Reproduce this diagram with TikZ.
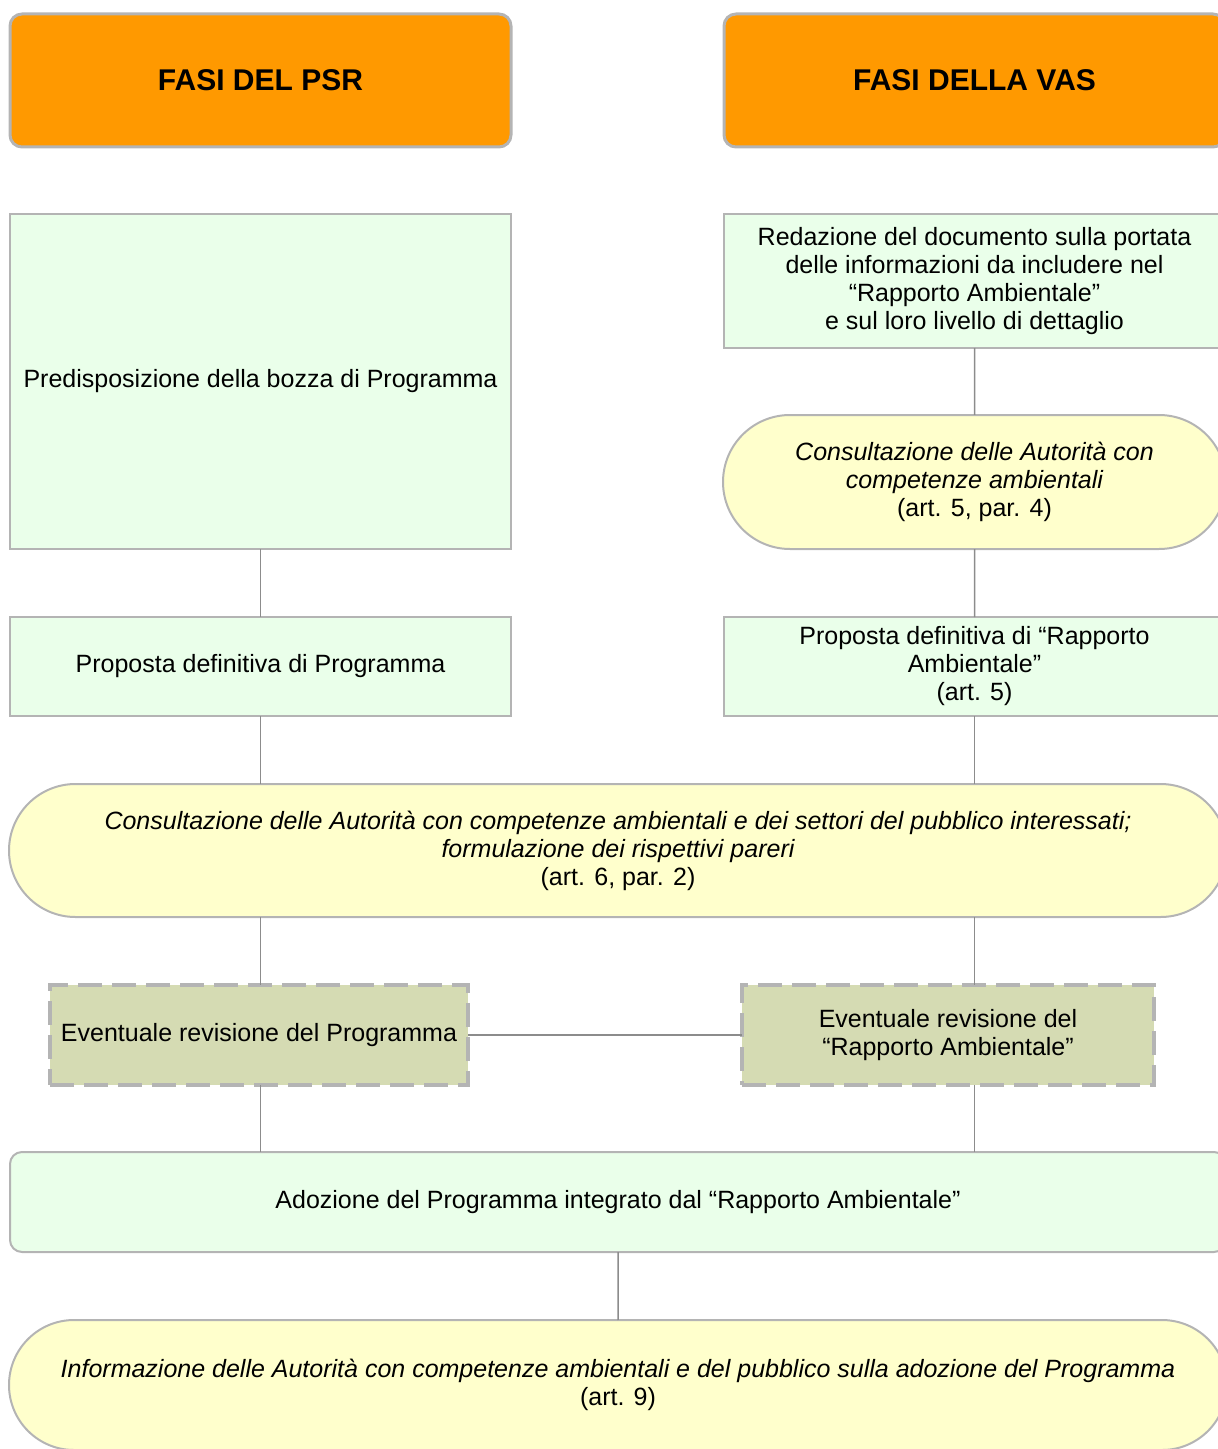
\documentclass[tikz,border=0pt]{standalone}
\usepackage{fontspec}
\setmainfont{Liberation Sans}
\usepackage{tikz}
\usetikzlibrary{positioning, shapes.misc}

\definecolor{headorange}{HTML}{FF9900}
\definecolor{boxgreen}{HTML}{EAFFEA}
\definecolor{boxyellow}{HTML}{FFFFCC}
\definecolor{boxolive}{HTML}{D5DBB3}
\definecolor{edgegray}{HTML}{B4B4B4}
\definecolor{linkgray}{HTML}{8C8C8C}

\begin{document}
\begin{tikzpicture}[
  font=\fontsize{12.5pt}{14pt}\selectfont,
  node distance=33.5pt and 106.5pt,
  every node/.style={outer sep=0pt},
  head/.style   ={rectangle, rounded corners=6pt, draw=edgegray, line width=1.5pt,
                  fill=headorange, minimum width=250.5pt, minimum height=66.5pt,
                  font=\fontsize{15pt}{17pt}\selectfont\bfseries},
  phase/.style  ={rectangle, draw=edgegray, line width=1pt, fill=boxgreen,
                  minimum width=250.5pt, align=center, inner sep=2pt},
  consult/.style={rounded rectangle, draw=edgegray, line width=1pt, fill=boxyellow,
                  minimum width=255.5pt, align=center, inner sep=2pt},
  revise/.style ={rectangle, draw=edgegray, line width=2pt,
                  dash pattern=on 12pt off 5pt, fill=boxolive,
                  minimum height=50pt, align=center, inner sep=2pt},
  link/.style   ={draw=linkgray, line width=0.75pt}
]
\useasboundingbox (0,0) rectangle (609pt,-724.5pt);

% ---------- Headers ----------
\node[head, anchor=north west] (hpsr) at (5pt,-7pt) {FASI DEL PSR};
\node[head, right=of hpsr]     (hvas) {FASI DELLA VAS};

% ---------- PSR column ----------
\node[phase, minimum height=167.5pt, below=of hpsr] (psrA)
  {Predisposizione della bozza di Programma};
\node[phase, minimum height=49.5pt, below=34pt of psrA] (psrB)
  {Proposta definitiva di Programma};

% ---------- VAS column ----------
\node[phase, minimum height=67pt, below=of hvas] (vasA)
  {Redazione del documento sulla portata\\delle informazioni da includere nel\\“Rapporto Ambientale”\\e sul loro livello di dettaglio};
\node[consult, minimum height=67pt, below=of vasA] (vasB)
  {\itshape Consultazione delle Autorità con\\\itshape competenze ambientali\\(art. 5, par. 4)};
\node[phase, minimum height=49.5pt, below=34pt of vasB] (vasC)
  {Proposta definitiva di “Rapporto\\Ambientale”\\(art. 5)};

% ---------- Shared phases ----------
\node[consult, minimum width=613pt, minimum height=66.5pt,
      below=34pt of psrB.south west, anchor=north, xshift=304pt] (cons)
  {\itshape Consultazione delle Autorità con competenze ambientali e dei settori del pubblico interessati;\\
   \itshape formulazione dei rispettivi pareri\\(art. 6, par. 2)};
\node[revise, minimum width=209pt,
      below=134.5pt of psrB.south west, anchor=north west, xshift=20pt] (rev1)
  {Eventuale revisione del Programma};
\node[revise, minimum width=206pt, right=137pt of rev1] (rev2)
  {Eventuale revisione del\\“Rapporto Ambientale”};
\node[phase, rounded corners=6pt, minimum width=608pt, minimum height=50pt,
      below=33.5pt of rev1.south west, anchor=north west, xshift=-20pt] (adoz)
  {Adozione del Programma integrato dal “Rapporto Ambientale”};
\node[consult, minimum width=613pt, minimum height=65pt, below=34pt of adoz] (info)
  {\itshape Informazione delle Autorità con competenze ambientali e del pubblico sulla adozione del Programma\\(art. 9)};

% ---------- Connectors ----------
\draw[link] (psrA) -- (psrB);
\draw[link] (vasA) -- (vasB);
\draw[link] (vasB) -- (vasC);
\draw[link] (psrB) -- (psrB |- cons.north);
\draw[link] (vasC) -- (vasC |- cons.north);
\draw[link] (cons.south -| psrB) -- (rev1.north -| psrB);
\draw[link] (cons.south -| vasC) -- (rev2.north -| vasC);
\draw[link] (rev1) -- (rev2);
\draw[link] (rev1.south -| psrB) -- (adoz.north -| psrB);
\draw[link] (rev2.south -| vasC) -- (adoz.north -| vasC);
\draw[link] (adoz) -- (info);

\end{tikzpicture}
\end{document}
